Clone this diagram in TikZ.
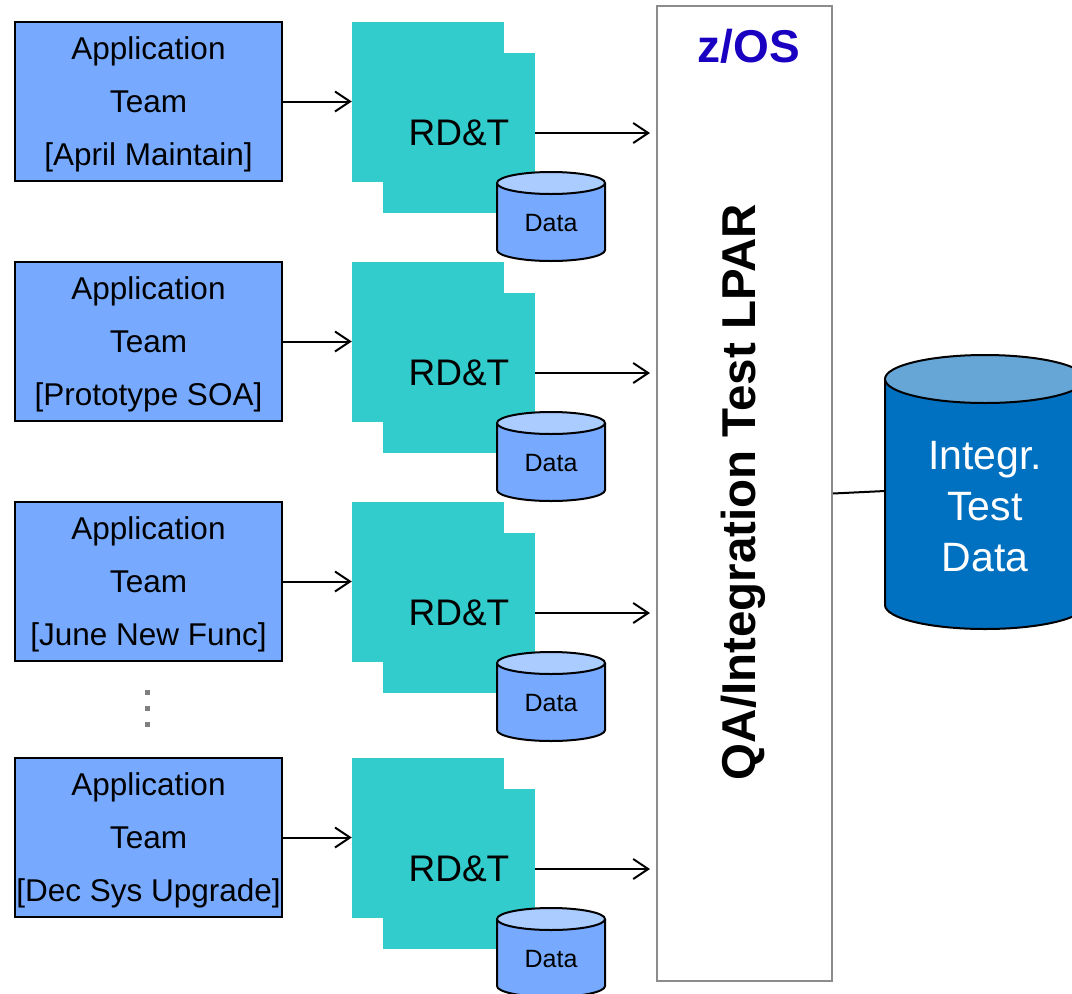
\documentclass[tikz,border=0pt]{standalone}
\usepackage{fontspec}
\setmainfont{Liberation Sans}
\usetikzlibrary{arrows.meta}
\definecolor{appblue}{HTML}{77AAFF}
\definecolor{rdteal}{HTML}{33CCCC}
\definecolor{datatop}{HTML}{AACCFF}
\definecolor{bigside}{HTML}{0070C0}
\definecolor{bigtop}{HTML}{66A6D6}
\definecolor{zosblue}{HTML}{1A00C0}
\definecolor{zosgray}{HTML}{8C8C8C}
\tikzset{
  appbox/.style={draw=black, line width=1.5pt, fill=appblue, minimum width=267pt, minimum height=159pt, inner sep=0pt},
  apptext/.style={align=center, inner sep=0pt, font=\fontsize{31.5}{53}\selectfont},
  rdsq/.style={fill=rdteal, minimum width=152pt, minimum height=160pt, inner sep=0pt, font=\fontsize{37}{44}\selectfont},
  conn/.style={line width=2pt, black},
  arr/.style={conn, -{Straight Barb[length=15pt, width=20pt]}},
  zosbox/.style={draw=zosgray, line width=2pt, fill=white, minimum width=175pt, minimum height=975pt, inner sep=0pt},
  dotsq/.style={fill=gray, minimum size=5pt, inner sep=0pt},
  cylline/.style={line width=2pt, black},
}
\begin{document}
\begin{tikzpicture}[x=1pt,y=-1pt]
\useasboundingbox (0,0) rectangle (1072,994);
\clip (0,0) rectangle (1072,994);
\fill[white] (0,0) rectangle (1072,994);

% z/OS box
\node[zosbox] (zos) at (744.5,493.5) {};
\node[font=\bfseries\fontsize{46}{50}\selectfont, text=zosblue, inner sep=0pt] (zostitle) at (749,46) {z/OS};
\node[rotate=90, font=\bfseries\fontsize{47.5}{50}\selectfont, inner sep=0pt] (lpar) at (743,492) {QA/Integration Test LPAR};

% rows
\foreach \dy/\lab [count=\i] in {0/{[April Maintain]},240/{[Prototype SOA]},480/{[June New Func]},736/{[Dec Sys Upgrade]}}{
  \node[appbox] (app\i) at (148.5,101.5+\dy) {};
  \node[apptext] (apptxt\i) at (148.5,104.5+\dy) {Application\\Team\\\lab};
  \node[rdsq] (bk\i) at (428,101.5+\dy) {};
  \node[rdsq] (fr\i) at (459,133+\dy) {RD\&T};
  % data cylinder
  \fill[appblue] (551,250+\dy) ellipse[x radius=54, y radius=11];
  \fill[appblue] (497,183+\dy) rectangle (605,250+\dy);
  \draw[cylline] (497,183+\dy) -- (497,250+\dy) arc[start angle=180, end angle=0, x radius=54, y radius=11] -- (605,183+\dy);
  \filldraw[cylline, fill=datatop] (551,183+\dy) ellipse[x radius=54, y radius=11];
  \node[font=\fontsize{25}{30}\selectfont, inner sep=0pt] (data\i) at (551,223+\dy) {Data};
  % connectors
  \draw[arr] (app\i.east) -- (bk\i.west);
  \draw[arr, shorten >=6pt] (fr\i.east) -- (fr\i.east -| zos.west);
}

% dots
\node[dotsq] (dot1) at (147,692) {};
\node[dotsq] (dot2) at (147,708) {};
\node[dotsq] (dot3) at (147,724) {};

% big cylinder
\fill[bigside] (985,605) ellipse[x radius=100, y radius=24];
\fill[bigside] (885,379) rectangle (1085,605);
\draw[cylline] (885,379) -- (885,605) arc[start angle=180, end angle=0, x radius=100, y radius=24] -- (1085,379);
\filldraw[cylline, fill=bigtop] (985,379) ellipse[x radius=100, y radius=24];
\node[align=center, text=white, inner sep=0pt, font=\fontsize{41}{51}\selectfont] (bigtxt) at (985,507) {Integr.\\Test\\Data};
\coordinate (bigleft) at (885,491);
\draw[conn] (zos.east) -- (bigleft);
\end{tikzpicture}
\end{document}
